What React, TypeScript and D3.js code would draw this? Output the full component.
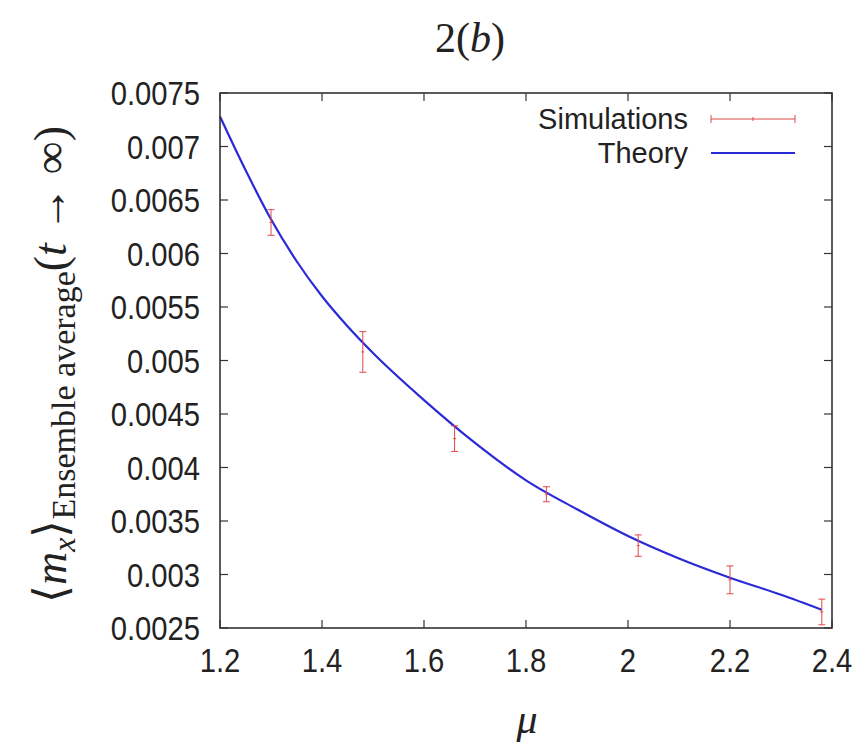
import React from "react";
import * as d3 from "d3";

const simMu = [1.3, 1.48, 1.66, 1.84, 2.02, 2.2, 2.38];
const simVal = [0.00629, 0.00508, 0.00427, 0.00375, 0.00327, 0.00295, 0.00265];
const simErr = [0.00012, 0.00019, 0.00012, 0.00007, 0.0001, 0.00013, 0.00012];

const theoryMu = [1.2, 1.25, 1.3, 1.35, 1.4, 1.45, 1.5, 1.6, 1.7, 1.8, 1.9, 2.0, 2.1, 2.2, 2.3, 2.38];
const theoryVal = [0.00728, 0.00678, 0.00632, 0.00593, 0.0056, 0.00532, 0.00507, 0.00463, 0.00423, 0.00388, 0.00361, 0.00336, 0.00315, 0.00297, 0.00281, 0.00267];

const xTicks = [1.2, 1.4, 1.6, 1.8, 2.0, 2.2, 2.4];
const xTickLabels = ["1.2", "1.4", "1.6", "1.8", "2", "2.2", "2.4"];
const yTicks = [0.0025, 0.003, 0.0035, 0.004, 0.0045, 0.005, 0.0055, 0.006, 0.0065, 0.007, 0.0075];
const yTickLabels = ["0.0025", "0.003", "0.0035", "0.004", "0.0045", "0.005", "0.0055", "0.006", "0.0065", "0.007", "0.0075"];

const W = 867, H = 749;
const L = 220, R = 832, T = 93, B = 628;
const SANS = "'Liberation Sans', Arial, Helvetica, sans-serif";
const SERIF = "'Liberation Serif', 'Times New Roman', serif";
const FS = 34, SX = 0.86;
const RED = "#e04848";
const BLUE = "#2a2ad6";

export default function App() {
  const x = d3.scaleLinear().domain([1.2, 2.4]).range([L, R]);
  const y = d3.scaleLinear().domain([0.0025, 0.0075]).range([B, T]);
  const line = d3.line<number>().x((_, i) => x(theoryMu[i])).y((d) => y(d)).curve(d3.curveMonotoneX);
  const tick = 8;
  const cap = 3.5;

  const sText = (tx: number, ty: number, s: string, anchor: string, fs = FS, sx = SX) => (
    <text transform={`translate(${tx},${ty}) scale(${sx},1)`} textAnchor={anchor as any}
      fontFamily={SANS} fontSize={fs} fill="#222">{s}</text>
  );

  return (
    <svg width={W} height={H} style={{ position: "absolute", left: 0, top: 0, background: "#fff" }}>
      <rect x={0} y={0} width={W} height={H} fill="#fff" />
      {/* title */}
      <text x={470} y={52} textAnchor="middle" fontFamily={SERIF} fontSize={42} fill="#222">
        2(<tspan fontStyle="italic">b</tspan>)
      </text>

      {/* ticks */}
      {xTicks.map((t, i) => (
        <g key={"xt" + i}>
          <line x1={x(t)} x2={x(t)} y1={B} y2={B - tick} stroke="#333" strokeWidth={1.2} />
          <line x1={x(t)} x2={x(t)} y1={T} y2={T + tick} stroke="#333" strokeWidth={1.2} />
          {sText(x(t), 672, xTickLabels[i], "middle")}
        </g>
      ))}
      {yTicks.map((t, i) => (
        <g key={"yt" + i}>
          <line x1={L} x2={L + tick} y1={y(t)} y2={y(t)} stroke="#333" strokeWidth={1.2} />
          <line x1={R} x2={R - tick} y1={y(t)} y2={y(t)} stroke="#333" strokeWidth={1.2} />
          {sText(200, y(t) + 12, yTickLabels[i], "end")}
        </g>
      ))}

      {/* theory */}
      <path d={line(theoryVal) || ""} fill="none" stroke={BLUE} strokeWidth={2.2} />

      {/* simulations */}
      {simMu.map((m, i) => {
        const cx = x(m);
        const y1 = y(simVal[i] + simErr[i]);
        const y2 = y(simVal[i] - simErr[i]);
        return (
          <g key={"s" + i} stroke={RED} strokeWidth={1}>
            <line x1={cx} x2={cx} y1={y1} y2={y2} />
            <line x1={cx - cap} x2={cx + cap} y1={y1} y2={y1} />
            <line x1={cx - cap} x2={cx + cap} y1={y2} y2={y2} />
            <line x1={cx - 1.5} x2={cx + 1.5} y1={y(simVal[i])} y2={y(simVal[i])} />
          </g>
        );
      })}

      {/* frame */}
      <rect x={L} y={T} width={R - L} height={B - T} fill="none" stroke="#333" strokeWidth={1.6} />

      {/* legend */}
      {sText(688, 129, "Simulations", "end", 29, 1.0)}
      {sText(688, 163, "Theory", "end", 29, 1.0)}
      <g stroke={RED} strokeWidth={1}>
        <line x1={711} x2={795} y1={119} y2={119} />
        <line x1={711} x2={711} y1={115} y2={123} />
        <line x1={795} x2={795} y1={115} y2={123} />
        <line x1={753} x2={753} y1={117} y2={121} />
      </g>
      <line x1={711} x2={795} y1={153} y2={153} stroke={BLUE} strokeWidth={2.2} />

      {/* y axis label */}
      <text transform={`translate(66,${(T + B) / 2 + 4}) rotate(-90)`} textAnchor="middle"
        fontFamily={SERIF} fontSize={46} fill="#222">
        ⟨<tspan fontStyle="italic">m</tspan><tspan fontStyle="italic" fontSize={32} dy={9}>x</tspan><tspan dy={-9}>⟩</tspan><tspan fontSize={34} dy={9}>Ensemble average</tspan><tspan dy={-9}>(</tspan><tspan fontStyle="italic">t</tspan> → ∞)
      </text>

      {/* x axis label */}
      <text x={527} y={733} textAnchor="middle" fontFamily={SERIF} fontStyle="italic" fontSize={42} fill="#222">μ</text>
    </svg>
  );
}
